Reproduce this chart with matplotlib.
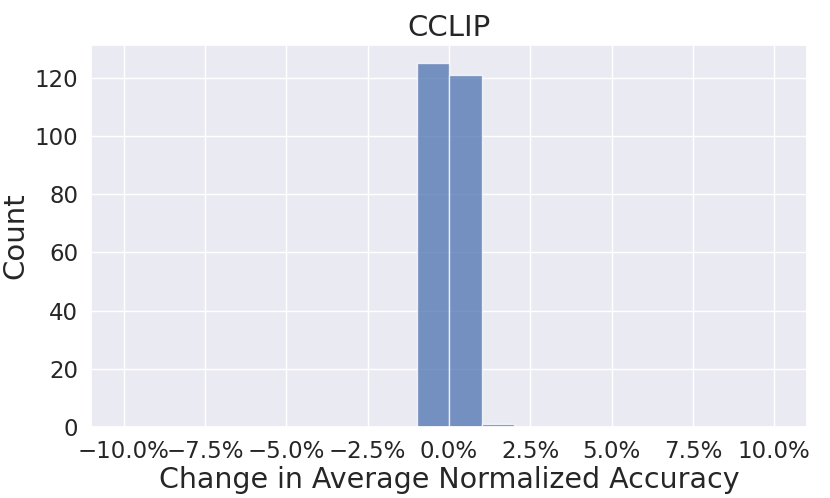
import numpy as np
import matplotlib.pyplot as plt
import seaborn as sns
from matplotlib.ticker import PercentFormatter

# histogram bins (fraction change) and counts
bin_edges = [-0.01, 0.0, 0.01, 0.02]
counts = [125, 121, 1]
x_ticks = [-0.10, -0.075, -0.05, -0.025, 0.0, 0.025, 0.05, 0.075, 0.10]

sns.set_theme(style="darkgrid")

fig, ax = plt.subplots(figsize=(8.3, 4.98), dpi=100)
ax.hist(bin_edges[:-1], bins=bin_edges, weights=counts,
        color="#4c72b0", alpha=0.75, edgecolor="white", linewidth=1)

ax.set_xlim(-0.11, 0.11)
ax.set_xticks(x_ticks)
ax.xaxis.set_major_formatter(PercentFormatter(1.0, decimals=1))
ax.set_yticks(np.arange(0, 121, 20))

ax.set_title("CCLIP", fontsize=21)
ax.set_xlabel("Change in Average Normalized Accuracy", fontsize=20.5, labelpad=2)
ax.set_ylabel("Count", fontsize=21)
ax.tick_params(labelsize=16.5)

fig.subplots_adjust(left=0.11, right=0.972, top=0.91, bottom=0.142)
fig.savefig("out.png")
